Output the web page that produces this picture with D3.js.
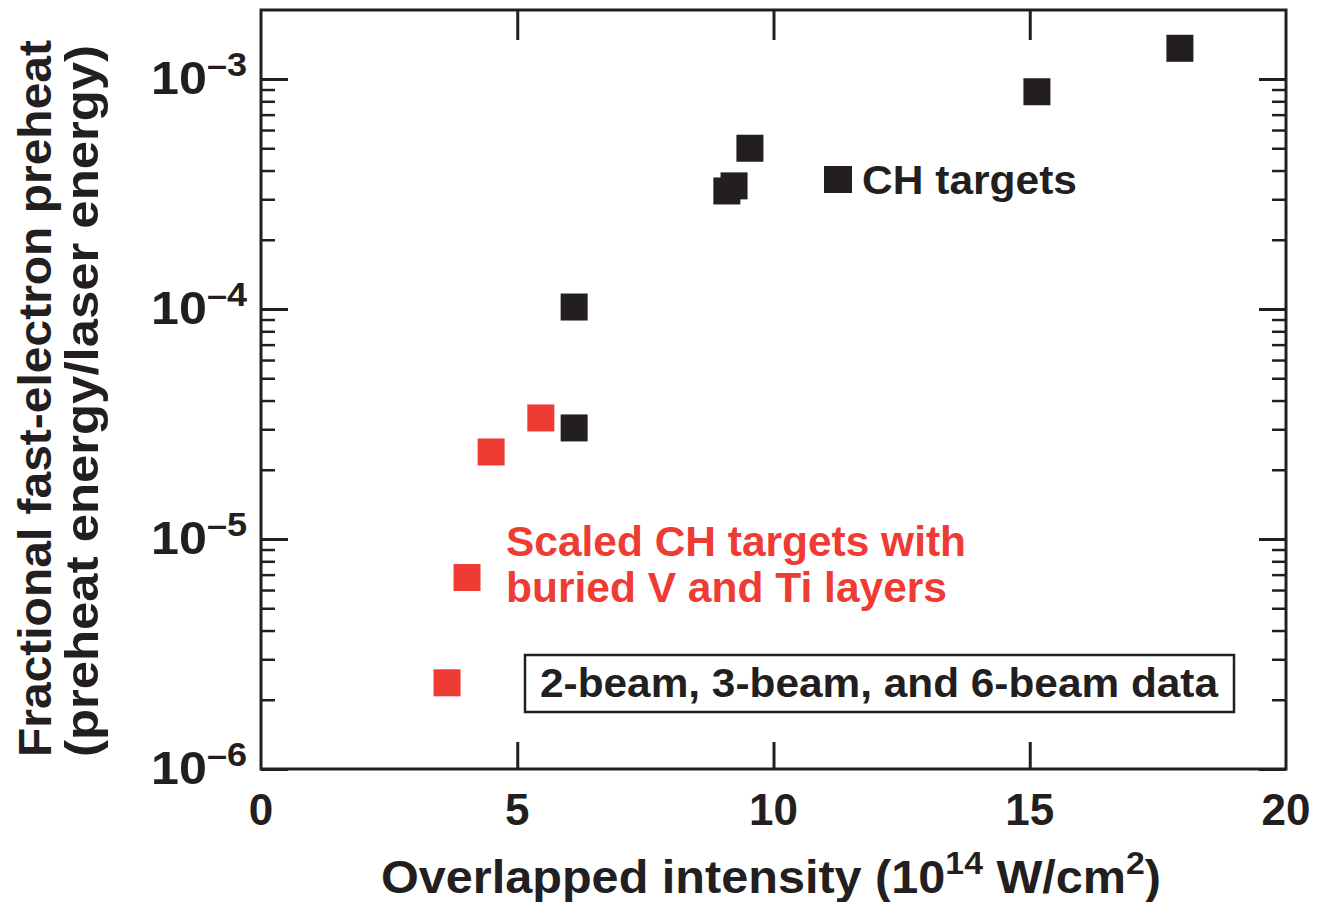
<!DOCTYPE html>
<html>
<head>
<meta charset="utf-8">
<script src="https://cdn.jsdelivr.net/npm/d3@7"></script>
<style>
  html, body { margin: 0; padding: 0; background: #ffffff; }
  svg text { font-family: "Liberation Sans", Arial, Helvetica, sans-serif; font-weight: bold; }
</style>
</head>
<body>
<svg id="chart" width="1317" height="902"></svg>
<script>
// ---- data ----
const chIntensity = [17.93, 15.14, 9.54, 9.23, 9.09, 6.11, 6.11];
const chPreheat   = [1.36e-3, 8.8e-4, 5.0e-4, 3.43e-4, 3.26e-4, 1.02e-4, 3.04e-5];
const scaledIntensity = [5.46, 4.49, 4.02, 3.63];
const scaledPreheat   = [3.36e-5, 2.39e-5, 6.8e-6, 2.37e-6];
const xTicks = [0, 5, 10, 15, 20];
const yDecades = [-6, -5, -4, -3];
const labelCH = "CH targets";
const labelScaled = ["Scaled CH targets with", "buried V and Ti layers"];
const labelBox = "2-beam, 3-beam, and 6-beam data";

const BLACK = "#231f20", RED = "#ee3b33";

const svg = d3.select("#chart");
const L = 261, R = 1286, T = 10, B = 769;
const x = d3.scaleLinear().domain([0, 20]).range([L, R]);
const y = d3.scaleLog().domain([1e-6, Math.pow(10, -2.7)]).range([B, T]);

// minor ticks
const minor = [];
yDecades.forEach(e => { for (let m = 2; m <= 9; m++) { const v = m * Math.pow(10, e); if (v < Math.pow(10, -2.7)) minor.push(v); } });
const majors = yDecades.map(e => Math.pow(10, e));

const g = svg.append("g");
const yLeft = d3.axisLeft(y).tickValues(majors).tickSize(-27).tickFormat("");
const yLeftMinor = d3.axisLeft(y).tickValues(minor).tickSize(-14).tickFormat("");
const yRight = d3.axisRight(y).tickValues(majors).tickSize(-27).tickFormat("");
const yRightMinor = d3.axisRight(y).tickValues(minor).tickSize(-14).tickFormat("");
const xBottom = d3.axisBottom(x).tickValues([5, 10, 15]).tickSize(-27).tickFormat("");
const xTop = d3.axisTop(x).tickValues([5, 10, 15]).tickSize(-30).tickFormat("");

function style(sel, w) {
  sel.select(".domain").remove();
  sel.selectAll("line").attr("stroke", BLACK).attr("stroke-width", w);
}
g.append("g").attr("transform", `translate(${L},0)`).call(yLeft).call(s => style(s, 3));
g.append("g").attr("transform", `translate(${L},0)`).call(yLeftMinor).call(s => style(s, 2.5));
g.append("g").attr("transform", `translate(${R},0)`).call(yRight).call(s => style(s, 3));
g.append("g").attr("transform", `translate(${R},0)`).call(yRightMinor).call(s => style(s, 2.5));
g.append("g").attr("transform", `translate(0,${B})`).call(xBottom).call(s => style(s, 3));
g.append("g").attr("transform", `translate(0,${T})`).call(xTop).call(s => style(s, 3));

// frame
svg.append("rect").attr("x", L).attr("y", T).attr("width", R - L).attr("height", B - T)
  .attr("fill", "none").attr("stroke", BLACK).attr("stroke-width", 3);

// x tick labels
svg.append("g").selectAll("text").data(xTicks).join("text")
  .attr("x", d => x(d)).attr("y", 825).attr("text-anchor", "middle")
  .attr("font-size", 44).attr("fill", BLACK).text(d => d);

// y tick labels
yDecades.forEach(e => {
  const t = svg.append("text").attr("x", 151).attr("y", y(Math.pow(10, e)) + 15)
    .attr("text-anchor", "start").attr("fill", BLACK)
    .attr("textLength", 96).attr("lengthAdjust", "spacingAndGlyphs");
  t.append("tspan").attr("font-size", 46).text("10");
  t.append("tspan").attr("font-size", 33).attr("dy", -18).text("\u2013" + Math.abs(e));
});

// axis titles
const xt = svg.append("text").attr("x", 381).attr("y", 893).attr("text-anchor", "start")
  .attr("fill", BLACK).attr("font-size", 46)
  .attr("textLength", 780).attr("lengthAdjust", "spacingAndGlyphs");
xt.append("tspan").text("Overlapped intensity (10");
xt.append("tspan").attr("font-size", 32).attr("dy", -19).text("14");
xt.append("tspan").attr("dy", 19).text(" W/cm");
xt.append("tspan").attr("font-size", 32).attr("dy", -19).text("2");
xt.append("tspan").attr("dy", 19).text(")");

svg.append("text").attr("transform", "translate(51,757) rotate(-90)")
  .attr("text-anchor", "start").attr("font-size", 46).attr("fill", BLACK)
  .attr("textLength", 717).attr("lengthAdjust", "spacingAndGlyphs")
  .text("Fractional fast-electron preheat");
svg.append("text").attr("transform", "translate(98,757) rotate(-90)")
  .attr("text-anchor", "start").attr("font-size", 46).attr("fill", BLACK)
  .attr("textLength", 712).attr("lengthAdjust", "spacingAndGlyphs")
  .text("(preheat energy/laser energy)");

// markers
const S = 27;
svg.append("g").selectAll("rect").data(chIntensity.map((v, i) => [v, chPreheat[i]])).join("rect")
  .attr("x", d => x(d[0]) - S / 2).attr("y", d => y(d[1]) - S / 2)
  .attr("width", S).attr("height", S).attr("fill", BLACK);
svg.append("g").selectAll("rect").data(scaledIntensity.map((v, i) => [v, scaledPreheat[i]])).join("rect")
  .attr("x", d => x(d[0]) - S / 2).attr("y", d => y(d[1]) - S / 2)
  .attr("width", S).attr("height", S).attr("fill", RED);

// CH legend
svg.append("rect").attr("x", 824).attr("y", 166).attr("width", 28).attr("height", 27).attr("fill", BLACK);
svg.append("text").attr("x", 862).attr("y", 194).attr("font-size", 40).attr("fill", BLACK)
  .attr("textLength", 215).attr("lengthAdjust", "spacingAndGlyphs").text(labelCH);

// red label
const redLens = [460, 441];
svg.append("g").selectAll("text").data(labelScaled).join("text")
  .attr("x", 506).attr("y", (d, i) => 556 + i * 46).attr("font-size", 42).attr("fill", RED)
  .attr("textLength", (d, i) => redLens[i]).attr("lengthAdjust", "spacingAndGlyphs")
  .text(d => d);

// boxed label
svg.append("rect").attr("x", 525).attr("y", 655).attr("width", 709).attr("height", 57)
  .attr("fill", "none").attr("stroke", BLACK).attr("stroke-width", 2.5);
svg.append("text").attr("x", 540).attr("y", 697).attr("font-size", 41).attr("fill", BLACK)
  .attr("textLength", 678).attr("lengthAdjust", "spacingAndGlyphs").text(labelBox);
</script>
</body>
</html>
